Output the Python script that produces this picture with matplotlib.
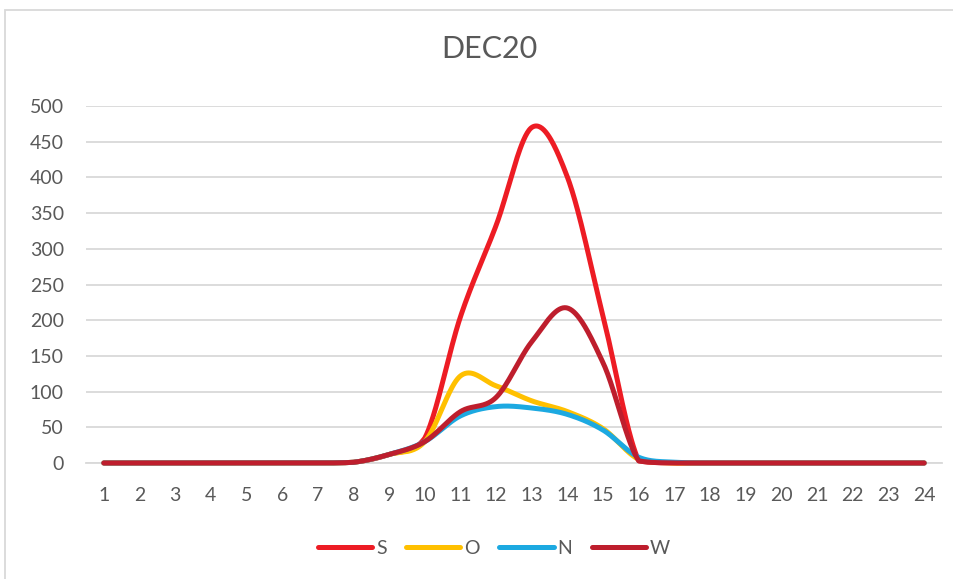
import numpy as np
import matplotlib
matplotlib.use("Agg")
import matplotlib.pyplot as plt
from matplotlib.patches import Rectangle

plt.rcParams['font.family'] = ['Lato', 'DejaVu Sans']

hours = list(range(1, 25))
tick_labels = [str(h) for h in hours]

S = [0, 0, 0, 0, 0, 0, 0, 1, 12, 35, 205, 333, 470, 400, 205, 3, 0, 0, 0, 0, 0, 0, 0, 0]
O = [0, 0, 0, 0, 0, 0, 0, 1, 12, 30, 122, 108, 87, 72, 48, 5, 0, 0, 0, 0, 0, 0, 0, 0]
N = [0, 0, 0, 0, 0, 0, 0, 1, 12, 30, 66, 79, 77, 68, 46, 8, 1, 0, 0, 0, 0, 0, 0, 0]
W = [0, 0, 0, 0, 0, 0, 0, 1, 12, 30, 72, 92, 170, 217, 140, 3, 0, 0, 0, 0, 0, 0, 0, 0]

series = [("S", S, "#ED1C24"), ("O", O, "#FFC000"), ("N", N, "#1CA9E1"), ("W", W, "#BE1E2D")]

TEXT = "#595959"
GRID = "#D9D9D9"


def smooth(xs, ys, n=40):
    """Cubic Bezier curve through the points (Catmull-Rom style control points,
    kept from dipping below the lower end of each segment)."""
    x = np.asarray(xs, float)
    y = np.asarray(ys, float)
    px = np.concatenate([[x[0]], x, [x[-1]]])
    py = np.concatenate([[y[0]], y, [y[-1]]])
    out_x, out_y = [], []
    t = np.linspace(0, 1, n)
    for i in range(1, len(px) - 2):
        p0x, p1x, p2x, p3x = px[i - 1], px[i], px[i + 1], px[i + 2]
        p0y, p1y, p2y, p3y = py[i - 1], py[i], py[i + 1], py[i + 2]
        lo = min(p1y, p2y)
        c1x, c1y = p1x + (p2x - p0x) / 6, max(lo, p1y + (p2y - p0y) / 6)
        c2x, c2y = p2x - (p3x - p1x) / 6, max(lo, p2y - (p3y - p1y) / 6)
        bx = (1 - t) ** 3 * p1x + 3 * (1 - t) ** 2 * t * c1x + 3 * (1 - t) * t ** 2 * c2x + t ** 3 * p2x
        by = (1 - t) ** 3 * p1y + 3 * (1 - t) ** 2 * t * c1y + 3 * (1 - t) * t ** 2 * c2y + t ** 3 * p2y
        out_x.extend(bx if i == 1 else bx[1:])
        out_y.extend(by if i == 1 else by[1:])
    return np.array(out_x), np.array(out_y)


fig = plt.figure(figsize=(9.54, 5.79), dpi=100)
ax = fig.add_axes([86 / 954, 116 / 579, 856 / 954, 357 / 579])

for i, (name, vals, col) in enumerate(series):
    sx, sy = smooth(hours, vals)
    ax.plot(sx, sy, color=col, lw=3.6, solid_capstyle="round", solid_joinstyle="round",
            label=name, zorder=3 + i, clip_on=False)

ax.set_xlim(0.5, 24.5)
ax.set_ylim(0, 500)
ax.set_xticks(hours)
ax.set_xticklabels(tick_labels)
ax.set_yticks(np.arange(0, 501, 50))
ax.yaxis.grid(True, color=GRID, lw=1.3)
ax.set_axisbelow(True)
for side in ["top", "right", "left"]:
    ax.spines[side].set_visible(False)
ax.spines["bottom"].set_color(GRID)
ax.spines["bottom"].set_linewidth(1.3)
ax.tick_params(axis="both", length=0, labelsize=14, colors=TEXT)
ax.tick_params(axis="x", pad=17)
ax.tick_params(axis="y", pad=16)

fig.text(0.5125, 1 - 49 / 579, "DEC20", ha="center", va="center", fontsize=22, color=TEXT)

leg = fig.legend(loc="center", bbox_to_anchor=(494 / 954, 1 - 548 / 579), ncol=4,
                 frameon=False, fontsize=14, handlelength=2.8, handletextpad=0.2,
                 columnspacing=1.0, labelcolor=TEXT)

# chart frame
fig.patches.append(Rectangle((5 / 954, -0.1), 1.2, 1.1 - 10 / 579, transform=fig.transFigure,
                             fill=False, edgecolor=GRID, lw=1.3))

fig.savefig("out.png", dpi=100, facecolor="white")
